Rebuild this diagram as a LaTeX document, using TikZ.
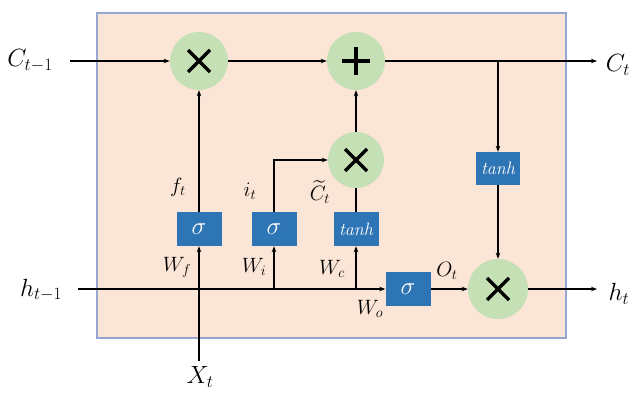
\documentclass[tikz,border=0pt]{standalone}
\usepackage{amsmath,amssymb}
\usepackage{xcolor}
\usepackage{tikz}
\usetikzlibrary{arrows.meta,positioning,calc}
\definecolor{cellbg}{HTML}{FBE5D6}
\definecolor{celledge}{RGB}{150,166,208}
\definecolor{opgreen}{HTML}{C5E0B4}
\definecolor{gateblue}{HTML}{2E75B6}
\tikzset{
  gate/.style={fill=gateblue, minimum width=45pt, minimum height=34pt,
    inner sep=0pt, text=white, font=\fontsize{26}{26}\selectfont},
  tgate/.style={gate, font=\fontsize{18}{18}\selectfont\itshape},
  op/.style={circle, fill=opgreen, minimum size=58pt, inner sep=0pt},
  mulop/.style={op, path picture={
    \draw[line width=3.2pt] ([shift={(-11pt,-11pt)}]path picture bounding box.center)
      -- ([shift={(11pt,11pt)}]path picture bounding box.center);
    \draw[line width=3.2pt] ([shift={(-11pt,11pt)}]path picture bounding box.center)
      -- ([shift={(11pt,-11pt)}]path picture bounding box.center);}},
  addop/.style={op, path picture={
    \draw[line width=3.4pt] ([xshift=-14pt]path picture bounding box.center)
      -- ([xshift=14pt]path picture bounding box.center);
    \draw[line width=3.4pt] ([yshift=-14pt]path picture bounding box.center)
      -- ([yshift=14pt]path picture bounding box.center);}},
  lbl/.style={font=\fontsize{22}{22}\selectfont},
  io/.style={font=\fontsize{26}{26}\selectfont},
  flow/.style={-{Stealth[length=6pt,width=4.5pt]}, line width=1.2pt},
  wire/.style={line width=1.2pt}
}

\begin{document}
\begin{tikzpicture}[x=1pt,y=1pt]
  \useasboundingbox (0,0) rectangle (633,392);
  % cell
  \draw[celledge, fill=cellbg, line width=1.4pt] (97,54) rectangle (566,379);

  % operators
  \node[mulop] (mulf) at (199,331) {};
  \node[addop] (add) at (356,331) {};
  \node[mulop, minimum size=56pt] (mulc) at (356,232) {};
  \node[mulop, minimum size=60pt] (mulh) at (498,103) {};

  % gates
  \node[gate] (sigf) at (199,163) {$\sigma$};
  \node[gate] (sigi) at (274,163) {$\sigma$};
  \node[tgate] (tanc) at (356,163) {tanh};
  \node[gate] (sigo) at (408,103) {$\sigma$};
  \node[tgate, minimum width=44pt, minimum height=33pt] (tanC) at (498,223.5) {tanh};

  % inputs and outputs
  \node[io] (ctm1) at (30,331) {$C_{t-1}$};
  \node[io] (ct) at (618,327) {$C_t$};
  \node[io] (htm1) at (41,102) {$h_{t-1}$};
  \node[io] (ht) at (619,98) {$h_t$};
  \node[io] (xt) at (200,15) {$X_t$};
  \coordinate (cin) at (70,331);
  \coordinate (cout) at (597,331);
  \coordinate (cb) at (498,331);
  \coordinate (hin) at (78,103);
  \coordinate (hout) at (597,103);
  \coordinate (xin) at (199,31);
  \coordinate (hi) at (274,103);
  \coordinate (hc) at (356,103);

  % labels
  \node[lbl] (ft) at (178,205) {$f_t$};
  \node[lbl] (it) at (250,201) {$i_t$};
  \node[lbl] (cct) at (320,200) {$\widetilde{C}_t$};
  \node[lbl] (wf) at (177,125) {$W_f$};
  \node[lbl] (wi) at (254,125) {$W_i$};
  \node[lbl] (wc) at (332,123) {$W_c$};
  \node[lbl] (wo) at (370,83) {$W_o$};
  \node[lbl] (ot) at (447,121) {$O_t$};

  % connectors
  \draw[flow] (cin) -- (mulf);
  \draw[flow] (mulf) -- (add);
  \draw[flow] (add) -- (cout);
  \draw[flow] (cb) -- (tanC);
  \draw[flow] (tanC) -- (mulh);
  \draw[flow] (hin) -- (sigo);
  \draw[flow] (xin) -- (sigf);
  \draw[flow] (sigf) -- (mulf);
  \draw[flow] (hi) -- (sigi);
  \draw[flow] (sigi) |- (mulc);
  \draw[flow] (hc) -- (tanc);
  \draw[wire] (tanc) -- (mulc);
  \draw[flow] (mulc) -- (add);
  \draw[flow] (sigo) -- (mulh);
  \draw[flow] (mulh) -- (hout);
\end{tikzpicture}
\end{document}
